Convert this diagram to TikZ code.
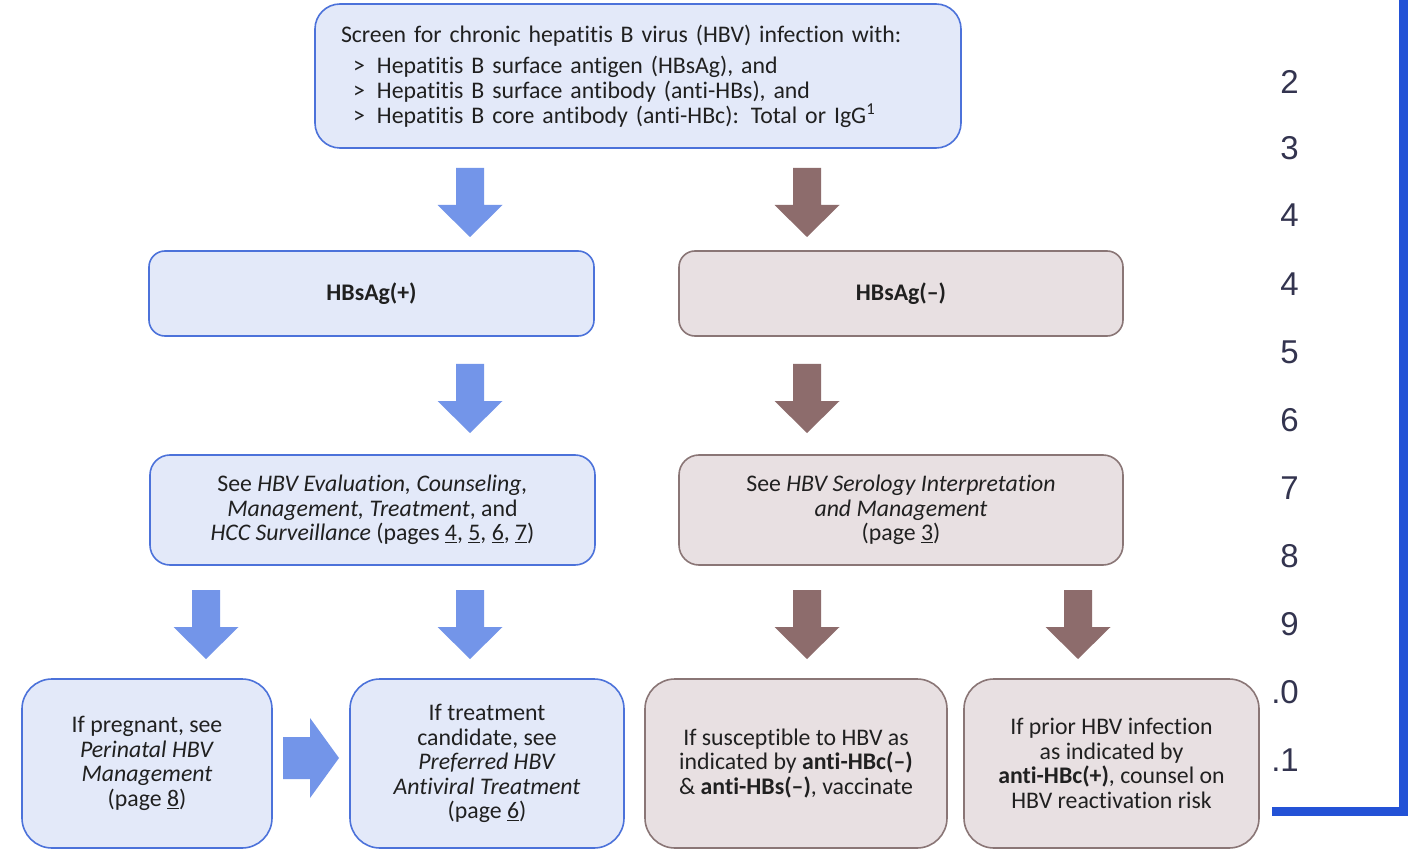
\documentclass[tikz,border=0pt]{standalone}
\usepackage{fontspec}
\setmainfont{Carlito}[Ligatures={TeX,NoCommon}]
\newfontfamily\numfont{Liberation Sans}
\definecolor{bluefill}{HTML}{E3E9F9}
\definecolor{blueline}{HTML}{4C72DA}
\definecolor{bluearrow}{HTML}{7395E9}
\definecolor{brownfill}{HTML}{E8E0E2}
\definecolor{brownline}{HTML}{8A7676}
\definecolor{brownarrow}{HTML}{8D6C6C}
\definecolor{inktext}{HTML}{202020}
\definecolor{frameblue}{HTML}{2352D6}
\definecolor{numink}{HTML}{33344F}
\tikzset{
  box/.style={draw, line width=1.6pt, align=center, inner sep=0pt, text=inktext,
    font=\fontsize{23.8}{24.6}\selectfont},
  posbox/.style={box, draw=blueline, fill=bluefill},
  negbox/.style={box, draw=brownline, fill=brownfill},
  downarrow/.pic={\path[pic actions] (-14,0) -- (14,0) -- (14,37) -- (32.5,37)
    -- (0,69) -- (-32.5,37) -- (-14,37) -- cycle;},
  rightarrow/.pic={\path[pic actions] (0,-21) -- (27,-21) -- (27,-40) -- (56,0)
    -- (27,40) -- (27,21) -- (0,21) -- cycle;},
  posflow/.style={fill=bluearrow},
  negflow/.style={fill=brownarrow},
  pagenum/.style={anchor=east, text=numink, inner sep=0pt,
    font=\numfont\fontsize{33}{33}\selectfont},
}
\newcommand\bulletitem{\makebox[24pt][l]{>}}
\begin{document}
\begin{tikzpicture}[x=1pt,y=-1pt]
\useasboundingbox[fill=white] (0,0) rectangle (1409,850);

% screening box
\node[posbox, rounded corners=25pt, minimum width=646pt, minimum height=144pt,
  text width=594pt, align=left] (screen) at (638,76)
  {Screen for chronic hepatitis B virus (HBV) infection with:\\[7pt]
   \hspace*{12pt}\bulletitem Hepatitis B surface antigen (HBsAg), and\\
   \hspace*{12pt}\bulletitem Hepatitis B surface antibody (anti-HBs), and\\
   \hspace*{12pt}\bulletitem Hepatitis B core antibody (anti-HBc): Total or IgG\textsuperscript{1}};

% result boxes
\node[posbox, rounded corners=16pt, minimum width=445pt, minimum height=85pt,
  font=\bfseries\fontsize{23.8}{24.6}\selectfont] (pos) at (371.5,293.5) {HBsAg(+)};
\node[negbox, rounded corners=16pt, minimum width=444pt, minimum height=85pt,
  font=\bfseries\fontsize{23.8}{24.6}\selectfont] (neg) at (901,293.5) {HBsAg(–)};

% follow-up boxes
\node[posbox, rounded corners=20pt, minimum width=445pt, minimum height=110pt] (eval) at (372.5,510)
  {See \textit{HBV Evaluation, Counseling,}\\
   \textit{Management, Treatment}, and\\
   \textit{HCC Surveillance} (pages \underline{4}, \underline{5}, \underline{6}, \underline{7})};
\node[negbox, rounded corners=20pt, minimum width=444pt, minimum height=110pt] (sero) at (901,510)
  {See \textit{HBV Serology Interpretation}\\
   \textit{and Management}\\
   (page \underline{3})};

% action boxes
\node[posbox, rounded corners=30pt, minimum width=250pt, minimum height=169pt] (preg) at (147,763.5)
  {If pregnant, see\\ \textit{Perinatal HBV}\\ \textit{Management}\\ (page \underline{8})};
\node[posbox, rounded corners=30pt, minimum width=274pt, minimum height=169pt] (treat) at (487,763.5)
  {If treatment\\ candidate, see\\ \textit{Preferred HBV}\\ \textit{Antiviral Treatment}\\ (page \underline{6})};
\node[negbox, rounded corners=30pt, minimum width=302pt, minimum height=169pt] (vacc) at (796,763.5)
  {If susceptible to HBV as\\ indicated by \textbf{anti-HBc(–)}\\ \& \textbf{anti-HBs(–)}, vaccinate};
\node[negbox, rounded corners=30pt, minimum width=295pt, minimum height=169pt] (prior) at (1111.5,763.5)
  {If prior HBV infection\\ as indicated by\\ \textbf{anti-HBc(+)}, counsel on\\ HBV reactivation risk};

% block arrows
\pic[posflow] at (470,168) {downarrow};
\pic[negflow] at (807,168) {downarrow};
\pic[posflow] at (470,364) {downarrow};
\pic[negflow] at (807,364) {downarrow};
\pic[posflow] at (206,590) {downarrow};
\pic[posflow] at (470,590) {downarrow};
\pic[negflow] at (807,590) {downarrow};
\pic[negflow] at (1078,590) {downarrow};
\pic[posflow] at (283,758) {rightarrow};

% page column and frame
\foreach \t/\y [count=\i] in {2/82,3/148,4/215,4/284,5/352,6/420,7/488,8/556,9/624,.0/692,.1/760}
  \node[pagenum] (num\i) at (1299,\y) {\t};
\draw[frameblue, line width=9pt] (1272,811) -- (1403.5,811) -- (1403.5,0);
\end{tikzpicture}
\end{document}
